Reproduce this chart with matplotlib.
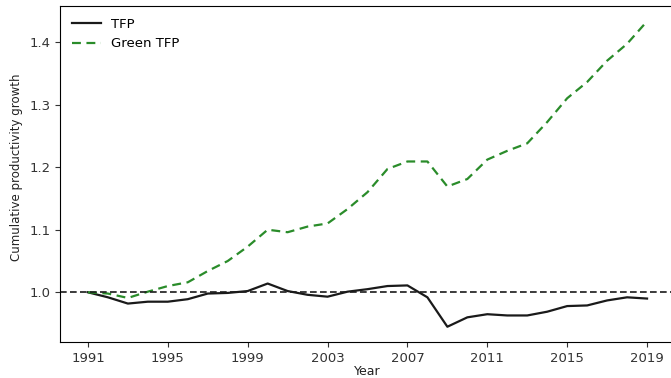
import numpy as np
import matplotlib.pyplot as plt

# Data ########################################################
years = np.arange(1991, 2020)

tfp = [1.000, 0.992, 0.982, 0.985, 0.985, 0.989, 0.998, 0.999, 1.002, 1.014,
       1.002, 0.996, 0.993, 1.001, 1.005, 1.010, 1.011, 0.992, 0.945, 0.960,
       0.965, 0.963, 0.963, 0.969, 0.978, 0.979, 0.987, 0.992, 0.990]

green_tfp = [1.000, 0.998, 0.991, 1.001, 1.010, 1.016, 1.034, 1.050, 1.073, 1.100,
             1.096, 1.105, 1.110, 1.133, 1.160, 1.197, 1.209, 1.209, 1.169, 1.181,
             1.212, 1.226, 1.238, 1.272, 1.310, 1.336, 1.370, 1.397, 1.433]

xticks = [1991, 1995, 1999, 2003, 2007, 2011, 2015, 2019]
yticks = [1.0, 1.1, 1.2, 1.3, 1.4]

# Plot ########################################################
fig = plt.figure(figsize=(6.71, 3.78), dpi=100)
ax = fig.add_axes([60/671, 36/378, 615/671, 336/378])

ax.plot(years, tfp, color="#1a1a1a", lw=1.6, label="TFP")
ax.plot(years, green_tfp, color="#2a8c2a", lw=1.6, ls=(0, (4, 2.5)), label="Green TFP")
ax.axhline(1.0, color="#1a1a1a", lw=1.2, ls=(0, (4, 2)))

ax.spines["right"].set_visible(False)

ax.set_xticks(xticks)
ax.set_yticks(yticks)
ax.tick_params(labelsize=9.5, colors="#333333")
ax.set_xlabel("Year", fontsize=9, color="#222222", labelpad=0)
ax.set_ylabel("Cumulative productivity growth", fontsize=8.5, color="#222222")
ax.yaxis.set_label_coords(-0.060, 0.52)

ax.legend(loc="upper left", frameon=False, fontsize=9.5, handlelength=2.2)

fig.savefig("out.png", dpi=100)
